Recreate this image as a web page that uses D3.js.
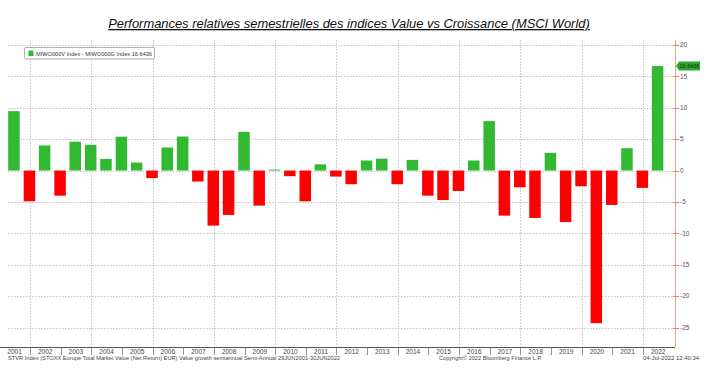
<!DOCTYPE html>
<html>
<head>
<meta charset="utf-8">
<script src="https://cdn.jsdelivr.net/npm/d3@7"></script>
<style>
  html, body { margin: 0; padding: 0; background: #fff; }
  svg { display: block; }
</style>
</head>
<body>
<svg id="chart" width="723" height="382"></svg>
<script>
// ---- Data ----
const periods = [
  "2001-06-29","2001-12-31",
  "2002-06-30","2002-12-31","2003-06-30","2003-12-31","2004-06-30","2004-12-31",
  "2005-06-30","2005-12-31","2006-06-30","2006-12-31","2007-06-30","2007-12-31",
  "2008-06-30","2008-12-31","2009-06-30","2009-12-31","2010-06-30","2010-12-31",
  "2011-06-30","2011-12-31","2012-06-30","2012-12-31","2013-06-30","2013-12-31",
  "2014-06-30","2014-12-31","2015-06-30","2015-12-31","2016-06-30","2016-12-31",
  "2017-06-30","2017-12-31","2018-06-30","2018-12-31","2019-06-30","2019-12-31",
  "2020-06-30","2020-12-31","2021-06-30","2021-12-31","2022-06-30"
];
const values = [
  9.46, -4.9,
  4.0, -4.0, 4.6, 4.1, 1.85, 5.4,
  1.28, -1.2, 3.67, 5.42, -1.75, -8.77,
  -7.07, 6.16, -5.58, 0.15, -0.9, -4.9,
  1.0, -0.96, -2.18, 1.6, 1.9, -2.18,
  1.7, -4.0, -4.7, -3.25, 1.6, 7.87,
  -7.18, -2.66, -7.55, 2.82, -8.2, -2.5,
  -24.3, -5.48, 3.56, -2.76, 16.6436
];
const yearLabels = ["2001","2002","2003","2004","2005","2006","2007","2008","2009","2010","2011",
  "2012","2013","2014","2015","2016","2017","2018","2019","2020","2021","2022"];
const yTicks = [20, 15, 10, 5, 0, -5, -10, -15, -20, -25];
const gridYears = ["2002","2004","2006","2008","2010","2012","2014","2016","2018","2020","2022"];

const titleText = "Performances relatives semestrielles des indices Value vs Croissance (MSCI World)";
const legendText = "MIWO000V Index - MIWO000G Index  16.6436";
const lastLabel = "16.6436";
const footLeft = "STVR Index (STOXX Europe Total Market Value (Net Return) EUR) Value growth semiannual  Semi-Annual 29JUN2001-30JUN2022";
const footMid = "Copyright\u00A9 2022 Bloomberg Finance L.P.";
const footRight = "04-Jul-2022 12:40:34";

// ---- Layout ----
const svg = d3.select("#chart");
const parse = d3.timeParse("%Y-%m-%d");
const x = d3.scaleTime()
  .domain([parse("2001-01-01"), parse("2023-01-01")])
  .range([-0.6, 673.6]);
const y = d3.scaleLinear().domain([-25, 20]).range([327.5, 45]);
const axisX = 675;
const plotTop = 40, plotBottom = 347, gridLeft = 8;
const green = "#32b932", red = "#ff0000";
const font = "'Liberation Sans', Arial, sans-serif";

// Horizontal gridlines (dotted)
svg.append("g").selectAll("line").data(yTicks).join("line")
  .attr("x1", gridLeft).attr("x2", axisX)
  .attr("y1", d => Math.round(y(d)) + 0.5).attr("y2", d => Math.round(y(d)) + 0.5)
  .attr("stroke", "#b4b4b4").attr("stroke-width", 0.8)
  .attr("stroke-dasharray", "1.5,1.5");

// Vertical gridlines (every 2 years)
svg.append("g").selectAll("line").data(gridYears).join("line")
  .attr("x1", d => Math.round(x(parse(d + "-01-01"))) + 0.5)
  .attr("x2", d => Math.round(x(parse(d + "-01-01"))) + 0.5)
  .attr("y1", plotTop).attr("y2", plotBottom)
  .attr("stroke", "#c4c4c4").attr("stroke-width", 0.8)
  .attr("stroke-dasharray", "2,1");

// Bars
const barW = 11.5;
const data = periods.map((p, i) => ({ date: parse(p), v: values[i] }));
svg.append("g").selectAll("rect").data(data).join("rect")
  .attr("x", d => x(d.date) - barW / 2 - 0.5)
  .attr("width", barW)
  .attr("y", d => y(Math.max(0, d.v)))
  .attr("height", d => Math.max(0.8, Math.abs(y(d.v) - y(0))))
  .attr("fill", d => d.v >= 0 ? green : red);

// X axis line
svg.append("line")
  .attr("x1", 0).attr("x2", axisX)
  .attr("y1", plotBottom + 0.5).attr("y2", plotBottom + 0.5)
  .attr("stroke", "#555").attr("stroke-width", 1);

// Year boundary ticks
svg.append("g").selectAll("line").data(yearLabels.slice(1)).join("line")
  .attr("x1", d => Math.round(x(parse(d + "-01-01"))) + 0.5)
  .attr("x2", d => Math.round(x(parse(d + "-01-01"))) + 0.5)
  .attr("y1", plotBottom).attr("y2", plotBottom + 8)
  .attr("stroke", "#777").attr("stroke-width", 0.8);

// Year labels
svg.append("g").selectAll("text").data(yearLabels).join("text")
  .attr("x", d => x(parse(d + "-07-01")))
  .attr("y", plotBottom + 7)
  .attr("text-anchor", "middle")
  .attr("font-family", font).attr("font-size", 6.5)
  .attr("fill", "#444")
  .text(d => d);

// Right axis
svg.append("line")
  .attr("x1", axisX + 0.5).attr("x2", axisX + 0.5)
  .attr("y1", plotTop).attr("y2", plotBottom)
  .attr("stroke", "#f4a184").attr("stroke-width", 1);
const ra = svg.append("g");
ra.selectAll("line").data(yTicks).join("line")
  .attr("x1", axisX - 2).attr("x2", axisX + 4)
  .attr("y1", d => Math.round(y(d)) + 0.5).attr("y2", d => Math.round(y(d)) + 0.5)
  .attr("stroke", "#ee7a5a").attr("stroke-width", 1);
ra.selectAll("text").data(yTicks).join("text")
  .attr("x", axisX + 5)
  .attr("y", d => y(d) + 2.3)
  .attr("font-family", font).attr("font-size", 6.5)
  .attr("fill", "#555")
  .text(d => d);

// Last value tag
const lastY = y(values[values.length - 1]);
const tag = svg.append("g");
tag.append("path")
  .attr("d", `M${axisX + 1},${lastY} L${axisX + 4},${lastY - 4.5} L${axisX + 25},${lastY - 4.5} L${axisX + 25},${lastY + 4.5} L${axisX + 4},${lastY + 4.5} Z`)
  .attr("fill", "#2fa82f");
tag.append("text")
  .attr("x", axisX + 14.5).attr("y", lastY + 2)
  .attr("text-anchor", "middle")
  .attr("font-family", font).attr("font-size", 5.5)
  .attr("fill", "#0a2a0a")
  .text(lastLabel);

// Legend
const lg = svg.append("g");
lg.append("rect")
  .attr("x", 24.5).attr("y", 47.5).attr("width", 130).attr("height", 11.5)
  .attr("rx", 1.5)
  .attr("fill", "#fff").attr("stroke", "#9a9a9a").attr("stroke-width", 0.8);
lg.append("rect")
  .attr("x", 28.5).attr("y", 50.5).attr("width", 5).attr("height", 5.5)
  .attr("fill", green);
lg.append("text")
  .attr("x", 36).attr("y", 55.6)
  .attr("font-family", font).attr("font-size", 5.6)
  .attr("fill", "#333")
  .attr("textLength", 116).attr("lengthAdjust", "spacingAndGlyphs")
  .text(legendText);

// Title
const title = svg.append("text")
  .attr("x", 349).attr("y", 28)
  .attr("text-anchor", "middle")
  .attr("font-family", font).attr("font-style", "italic")
  .attr("font-size", 14)
  .attr("fill", "#111")
  .attr("text-decoration", "underline")
  .text(titleText);
const tw = title.node().getComputedTextLength();
title.attr("font-size", 14 * 482 / tw);

// Footer
const foot = svg.append("g")
  .attr("font-family", font).attr("font-size", 5.8).attr("fill", "#444");
foot.append("text").attr("x", 8).attr("y", 360)
  .attr("textLength", 332).attr("lengthAdjust", "spacingAndGlyphs").text(footLeft);
foot.append("text").attr("x", 439).attr("y", 360)
  .attr("textLength", 103).attr("lengthAdjust", "spacingAndGlyphs").text(footMid);
foot.append("text").attr("x", 643).attr("y", 360)
  .attr("textLength", 56).attr("lengthAdjust", "spacingAndGlyphs").text(footRight);
</script>
</body>
</html>
